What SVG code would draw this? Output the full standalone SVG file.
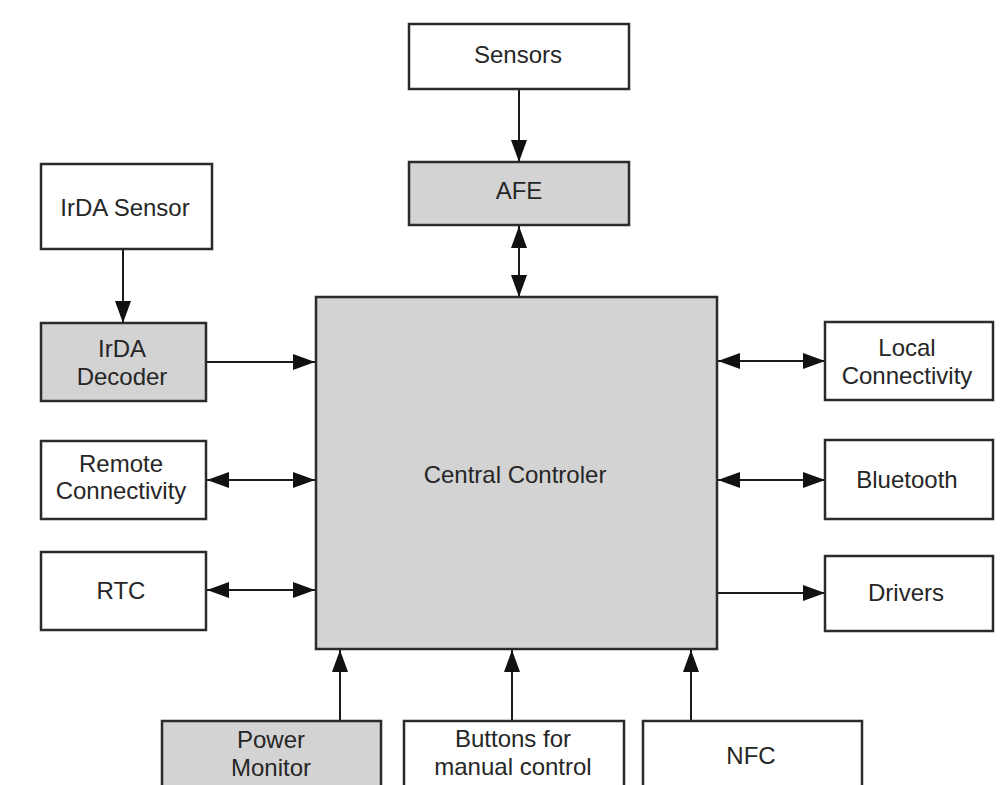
<svg xmlns="http://www.w3.org/2000/svg" width="1008" height="785" viewBox="0 0 1008 785">
<style>
.box{stroke:#2b2b2b;stroke-width:2.5;fill:#fff}
.g{fill:#d3d3d3}
.t{font-family:"Liberation Sans",Arial,sans-serif;font-size:24px;fill:#262626;text-anchor:middle}
.c{stroke:#1a1a1a;stroke-width:2;fill:none}
</style>
<defs>
<marker id="ae" markerUnits="userSpaceOnUse" markerWidth="22" markerHeight="16" refX="22" refY="8" orient="auto">
<path d="M0,0 L22,8 L0,16 Z" fill="#111"/>
</marker>
<marker id="as" markerUnits="userSpaceOnUse" markerWidth="22" markerHeight="16" refX="0" refY="8" orient="auto">
<path d="M22,0 L0,8 L22,16 Z" fill="#111"/>
</marker>
</defs>
<rect width="1008" height="785" fill="#fff"/>
<g id="connectors">
<line class="c" x1="519" y1="89" x2="519" y2="162" marker-end="url(#ae)"/>
<line class="c" x1="519" y1="226" x2="519" y2="297" marker-start="url(#as)" marker-end="url(#ae)"/>
<line class="c" x1="123" y1="249" x2="123" y2="323" marker-end="url(#ae)"/>
<line class="c" x1="206" y1="362" x2="315" y2="362" marker-end="url(#ae)"/>
<line class="c" x1="207" y1="480" x2="315" y2="480" marker-start="url(#as)" marker-end="url(#ae)"/>
<line class="c" x1="207" y1="590" x2="315" y2="590" marker-start="url(#as)" marker-end="url(#ae)"/>
<line class="c" x1="718" y1="361" x2="825" y2="361" marker-start="url(#as)" marker-end="url(#ae)"/>
<line class="c" x1="718" y1="480" x2="825" y2="480" marker-start="url(#as)" marker-end="url(#ae)"/>
<line class="c" x1="712" y1="593" x2="825" y2="593" marker-end="url(#ae)"/>
<line class="c" x1="340" y1="721" x2="340" y2="650" marker-end="url(#ae)"/>
<line class="c" x1="512" y1="721" x2="512" y2="650" marker-end="url(#ae)"/>
<line class="c" x1="691" y1="721" x2="691" y2="650" marker-end="url(#ae)"/>
</g>
<g id="sensors"><rect class="box" x="409" y="24" width="220" height="65"/><text class="t" x="518" y="63">Sensors</text></g>
<g id="afe"><rect class="box g" x="409" y="162" width="220" height="63"/><text class="t" x="519" y="199">AFE</text></g>
<g id="irda-sensor"><rect class="box" x="41" y="164" width="171" height="85"/><text class="t" x="125" y="216">IrDA Sensor</text></g>
<g id="irda-decoder"><rect class="box g" x="41" y="323" width="165" height="78"/><text class="t" x="122" y="357">IrDA</text><text class="t" x="122" y="385">Decoder</text></g>
<g id="central"><rect class="box g" x="316" y="297" width="401" height="352"/><text class="t" x="515" y="483">Central Controler</text></g>
<g id="remote"><rect class="box" x="41" y="441" width="165" height="78"/><text class="t" x="121" y="472">Remote</text><text class="t" x="121" y="499">Connectivity</text></g>
<g id="rtc"><rect class="box" x="41" y="552" width="165" height="78"/><text class="t" x="121" y="599">RTC</text></g>
<g id="local"><rect class="box" x="825" y="322" width="168" height="78"/><text class="t" x="907" y="356">Local</text><text class="t" x="907" y="384">Connectivity</text></g>
<g id="bluetooth"><rect class="box" x="825" y="440" width="168" height="79"/><text class="t" x="907" y="488">Bluetooth</text></g>
<g id="drivers"><rect class="box" x="825" y="556" width="168" height="75"/><text class="t" x="906" y="601">Drivers</text></g>
<g id="power"><rect class="box g" x="162" y="721" width="219" height="75"/><text class="t" x="271" y="748">Power</text><text class="t" x="271" y="776">Monitor</text></g>
<g id="buttons"><rect class="box" x="404" y="721" width="220" height="75"/><text class="t" x="513" y="747">Buttons for</text><text class="t" x="513" y="775">manual control</text></g>
<g id="nfc"><rect class="box" x="643" y="721" width="219" height="75"/><text class="t" x="751" y="764">NFC</text></g>
</svg>
